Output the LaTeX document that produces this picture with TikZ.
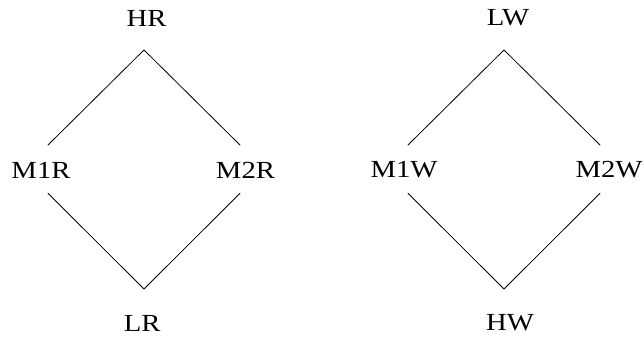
\documentclass[tikz,border=0pt]{standalone}
\usepackage{fontspec}
\setmainfont{Liberation Serif}[FakeStretch=1.17]
\begin{document}
\begin{tikzpicture}[x=.75pt,y=.75pt,line cap=round,line join=round,line width=.6pt,
  lbl/.style={inner sep=0pt,font=\fontsize{18.4}{22}\selectfont}]
\useasboundingbox (0,0) rectangle (644,349);
% read lattice
\node[lbl] (HR) at (146.5,331) {HR};
\node[lbl] (M1R) at (41,179) {M1R};
\node[lbl] (M2R) at (245.5,179) {M2R};
\node[lbl] (LR) at (142.3,26) {LR};
\coordinate (HR-s) at (144,299);
\coordinate (M1R-n) at (48,204);
\coordinate (M2R-n) at (240,204);
\coordinate (M1R-s) at (48,155.7);
\coordinate (M2R-s) at (240,155.7);
\coordinate (LR-n) at (144,60);
\draw (M1R-n)--(HR-s)--(M2R-n) (M1R-s)--(LR-n)--(M2R-s);
% write lattice
\node[lbl] (LW) at (508,331) {LW};
\node[lbl] (M1W) at (404,179) {M1W};
\node[lbl] (M2W) at (609,179) {M2W};
\node[lbl] (HW) at (510,26) {HW};
\coordinate (LW-s) at (504,299);
\coordinate (M1W-n) at (408,204);
\coordinate (M2W-n) at (600,204);
\coordinate (M1W-s) at (408,155.7);
\coordinate (M2W-s) at (600,155.7);
\coordinate (HW-n) at (504,60);
\draw (M1W-n)--(LW-s)--(M2W-n) (M1W-s)--(HW-n)--(M2W-s);
\end{tikzpicture}
\end{document}
